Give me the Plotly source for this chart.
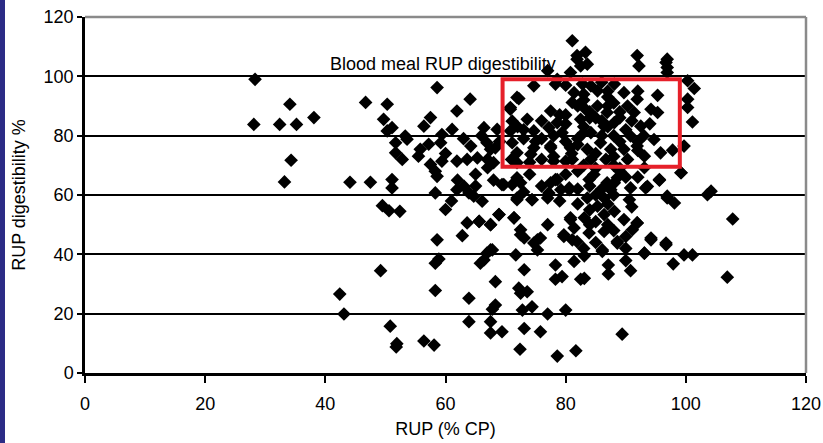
import plotly.graph_objects as go

# RUP (% CP) values
rup = [
    28.3, 28.1, 32.4, 35.2, 34.1, 38.1, 34.3, 33.2,
    46.7, 50.3, 58.6, 64.1, 49.7, 51.1, 61.9, 57.5, 56.4, 61.1, 66.4, 53.3, 59.4, 71.9, 70.8, 74.7, 78.3, 77.0,
    81.1, 81.9, 83.3, 81.9, 83.6, 91.9, 96.9, 96.9, 100.3, 101.4, 95.3, 100.3, 100.3, 101.1, 91.9, 94.2, 95.3,
    99.7, 97.8, 95.8, 99.2, 95.6, 93.3, 103.6, 104.2, 96.9, 98.1, 107.8, 96.7, 94.2, 91.9, 91.1, 88.6, 101.1,
    90.6, 88.1, 93.1,
    97.9, 106.9, 90.8, 90.0, 87.1, 87.1, 83.1, 81.4, 83.1, 86.1, 93.1, 89.4, 81.7,
    49.2, 42.4, 43.1, 50.8, 51.9, 51.8, 56.4, 58.1, 58.3, 58.3, 58.9, 63.9, 63.9, 65.8, 66.4, 66.9, 67.8,
    67.5, 67.5, 69.4, 67.8, 68.3, 68.3, 71.7, 73.1, 72.2, 72.5, 73.6, 72.8, 74.4, 73.1, 72.4, 75.8, 77.0,
    78.3, 78.3, 79.4, 80.0, 78.6, 75.3, 82.5,
    44.1, 47.5, 51.1, 51.1, 49.5, 50.6, 52.4, 58.6, 60.0, 58.3, 58.3, 57.5, 58.6, 59.4, 61.9, 63.1, 63.9,
    64.7, 66.1, 63.6, 65.6, 67.5, 62.8, 68.9, 71.4, 72.5, 73.1, 74.7, 75.8, 71.9, 74.4, 69.4, 71.1, 72.5,
    77.5, 78.6, 79.2, 80.6, 80.8, 81.4, 79.7, 81.1, 77.0, 61.9, 63.6, 65.3, 67.0, 68.0, 67.0, 51.7, 51.7,
    52.8, 53.6, 55.8, 55.5, 57.2, 59.2, 64.2, 66.9, 68.3, 50.3, 71.9, 74.2, 77.5, 80.0,
    72.2, 70.8, 71.1, 70.8, 71.1, 71.9, 73.6, 74.7, 74.7, 77.5, 78.6, 77.2, 79.4, 77.5, 80.8, 81.1, 78.0,
    81.4, 82.8, 84.2, 85.3, 88.1, 81.1, 83.3, 82.5, 85.3, 86.9, 84.2, 86.4, 88.1, 85.8, 83.6, 84.2, 87.5,
    89.7, 90.3, 91.4, 92.5, 90.8, 89.7, 91.9, 94.7, 93.1, 90.3, 86.7, 82.5, 92.2, 96.7, 96.9, 80.8, 78.6,
    68.6, 67.5,
    83.0, 87.0, 89.0, 80.0, 73.0, 76.0, 82.0, 88.0, 93.0, 86.0, 84.0, 80.0, 78.0, 72.0, 76.0, 83.0, 88.0,
    92.0, 94.0, 90.0, 83.0, 87.0,
    69.7, 71.9, 71.9, 74.4, 68.9, 65.6, 67.5, 71.4, 72.5, 75.3, 67.5, 78.3, 77.2, 80.6, 83.9, 84.7, 86.9,
    88.6, 87.5, 90.8, 93.6, 95.6, 99.2, 96.9, 83.6, 85.3, 80.8, 83.1, 86.4, 88.1, 89.7, 91.9, 79.7, 81.9,
    83.9, 86.4, 88.6, 86.1, 94.2, 96.7, 93.1, 99.7, 77.0, 86.4,
    85.0, 89.0, 82.0, 86.0, 90.0, 84.0, 87.0, 85.0, 90.0, 84.0,
    80.0, 86.0, 83.0, 87.0, 82.0, 88.0, 84.0, 89.0, 80.0, 85.0, 91.0, 76.0, 79.0, 73.0, 75.0, 82.0, 86.0,
    89.0, 92.0, 78.0, 81.0, 85.0, 88.0, 92.0, 71.0, 74.0, 83.0, 87.0,
    62.0, 65.0, 68.0, 60.0, 63.0, 66.0, 69.0, 61.0, 65.0,
    82.0, 84.0, 88.0, 91.0, 85.0, 88.0, 83.0, 90.0, 82.0, 87.0, 80.0, 92.0, 89.0, 85.0,
    73.0, 76.0, 74.0, 79.0,
]

# RUP digestibility (%) values
digestibility = [
    99.0, 83.8, 83.8, 83.8, 90.6, 86.1, 71.7, 64.4,
    91.2, 90.6, 96.2, 92.3, 85.5, 82.7, 88.3, 86.1, 83.2, 82.1, 82.7, 79.9, 80.4, 92.9, 89.5, 96.8, 97.4, 101.9,
    112.0, 107.0, 108.1, 105.8, 104.1, 107.0, 105.8, 103.0, 98.5, 95.9, 93.6, 92.3, 89.5, 84.6, 92.3, 88.9, 87.8,
    76.5, 75.1, 74.2, 67.5, 65.0, 62.4, 60.1, 61.3, 59.6, 57.3, 51.9, 43.8, 45.5, 50.6, 48.3, 43.8, 39.8,
    58.4, 64.1, 69.2,
    36.8, 32.3, 34.5, 37.9, 36.4, 33.4, 31.9, 37.6, 39.5, 41.0, 40.4, 13.1, 7.5,
    34.5, 26.6, 19.9, 15.8, 9.9, 8.8, 10.8, 9.4, 27.8, 37.0, 38.4, 25.2, 17.3, 37.0, 38.1, 40.4, 41.5,
    17.3, 13.5, 13.9, 21.5, 22.9, 30.8, 39.8, 34.8, 28.6, 26.9, 27.4, 21.2, 22.3, 15.0, 8.0, 13.9, 19.9,
    36.4, 31.6, 32.5, 21.2, 5.7, 41.5, 31.6,
    64.3, 64.3, 65.2, 62.4, 56.4, 54.7, 54.5, 44.9, 55.1, 60.7, 68.0, 70.3, 66.3, 71.4, 61.8, 62.9, 60.7,
    59.6, 57.9, 50.6, 51.1, 50.0, 46.3, 53.4, 52.3, 48.3, 45.5, 43.8, 45.5, 58.4, 58.4, 63.5, 63.5, 64.1,
    64.1, 65.2, 61.8, 61.8, 51.7, 48.9, 46.0, 44.9, 59.0, 71.4, 72.0, 72.5, 72.0, 70.9, 69.2, 77.6, 74.2,
    72.0, 78.8, 75.4, 73.1, 77.1, 77.6, 76.5, 77.6, 75.9, 81.6, 70.9, 73.7, 76.5, 71.4,
    92.5, 88.9, 84.9, 81.6, 77.6, 74.2, 85.5, 81.6, 75.9, 88.3, 84.4, 82.7, 81.0, 75.9, 75.9, 72.0, 71.4,
    94.5, 97.4, 96.8, 95.1, 97.4, 91.2, 88.9, 85.5, 90.0, 87.8, 81.0, 83.2, 84.4, 77.6, 75.4, 72.0, 75.4,
    94.5, 90.0, 87.8, 83.2, 79.9, 75.4, 76.5, 78.7, 73.1, 72.0, 72.0, 103.5, 103.5, 104.7, 101.3, 101.3, 99.0,
    82.1, 75.4,
    92.0, 93.0, 86.0, 87.0, 79.0, 79.0, 79.0, 80.0, 80.0, 85.0, 86.0, 78.0, 80.0, 83.0, 72.0, 70.0, 70.0,
    95.0, 84.0, 82.0, 83.0, 90.0,
    63.5, 65.8, 59.0, 58.4, 53.4, 51.1, 50.0, 52.3, 46.6, 44.9, 41.5, 65.2, 60.7, 62.4, 65.2, 66.9, 64.1,
    65.8, 61.8, 62.4, 62.9, 65.2, 67.5, 59.0, 59.0, 56.2, 52.3, 52.3, 53.4, 54.5, 51.7, 50.6, 46.6, 44.3,
    47.2, 47.7, 44.3, 41.5, 44.9, 43.2, 40.4, 39.8, 50.0, 59.0,
    69.0, 68.0, 68.0, 62.0, 66.0, 50.0, 50.0, 44.0, 46.0, 55.0,
    97.0, 98.0, 94.0, 95.0, 90.0, 91.0, 88.0, 88.0, 84.0, 86.0, 85.0, 85.0, 87.0, 82.0, 78.0, 77.0, 80.0,
    78.0, 78.0, 73.0, 74.0, 74.0, 73.0, 75.0, 72.0, 71.0, 81.0, 83.0,
    65.0, 67.0, 65.0, 74.0, 79.0, 80.0, 78.0, 58.0, 63.0,
    62.0, 63.0, 60.0, 56.0, 51.0, 48.0, 42.0, 42.0, 57.0, 57.0, 67.0, 66.0, 69.0, 60.0,
    61.0, 63.0, 67.0, 58.0,
]

x_ticks = [0, 20, 40, 60, 80, 100, 120]
y_ticks = [0, 20, 40, 60, 80, 100, 120]
box_x = [69.5, 99]
box_y = [69.5, 99]
label_text = "Blood meal RUP digestibility"
label_pos = (40.5, 104.2)

FONT = "Liberation Sans, Arial, Helvetica, sans-serif"
FS = 18

fig = go.Figure()
fig.add_trace(go.Scatter(
    x=rup, y=digestibility, mode="markers",
    marker=dict(symbol="diamond", size=10.5, color="black", line=dict(width=0)),
    hoverinfo="x+y", showlegend=False,
))

W, H = 823, 443
ml, mr, mt, mb = 85, 17, 17, 70
pw = W - ml - mr
ph = H - mt - mb

shapes = [
    # red highlight box
    dict(type="rect", xref="x", yref="y", x0=box_x[0], x1=box_x[1], y0=box_y[0], y1=box_y[1],
         line=dict(color="#e6202a", width=4), layer="above"),
    # gray top and right frame
    dict(type="line", xref="paper", yref="paper", x0=0, x1=1, y0=1, y1=1,
         line=dict(color="#8a8a8a", width=2.5), layer="above"),
    dict(type="line", xref="paper", yref="paper", x0=1, x1=1, y0=0, y1=1,
         line=dict(color="#8a8a8a", width=2.5), layer="above"),
    # navy strip at the left edge
    dict(type="rect", xref="paper", yref="paper",
         x0=-ml / pw, x1=(5 - ml) / pw, y0=-mb / ph, y1=1 + mt / ph,
         fillcolor="#2c2c86", line=dict(width=0), layer="above"),
]

fig.update_layout(
    width=W, height=H,
    margin=dict(l=ml, r=mr, t=mt, b=mb, autoexpand=False),
    paper_bgcolor="white", plot_bgcolor="white",
    font=dict(family=FONT, size=FS, color="black"),
    shapes=shapes,
    annotations=[dict(x=label_pos[0], y=label_pos[1], xref="x", yref="y", text=label_text,
                      showarrow=False, xanchor="left", yanchor="middle",
                      font=dict(family=FONT, size=FS, color="black"))],
    xaxis=dict(range=[0, 120], tickvals=x_ticks, ticktext=[str(v) for v in x_ticks],
               showgrid=False, zeroline=False, showline=True, linecolor="black", linewidth=2.5,
               ticks="outside", ticklen=7, tickwidth=2, tickcolor="black",
               ticklabelstandoff=6, automargin=False,
               title=dict(text="RUP (% CP)", standoff=10, font=dict(size=FS)),
               tickfont=dict(size=FS)),
    yaxis=dict(range=[0, 120], tickvals=y_ticks, ticktext=[str(v) for v in y_ticks],
               showgrid=True, gridcolor="black", gridwidth=2, zeroline=False,
               showline=True, linecolor="black", linewidth=2.5,
               ticks="outside", ticklen=5, tickwidth=2, tickcolor="black",
               automargin=False,
               title=dict(text="RUP digestibility %", standoff=14, font=dict(size=FS)),
               tickfont=dict(size=FS)),
)

fig.write_html("out.html", config={"displayModeBar": False},
               post_script="document.body.style.margin='0';document.body.style.padding='0';")
